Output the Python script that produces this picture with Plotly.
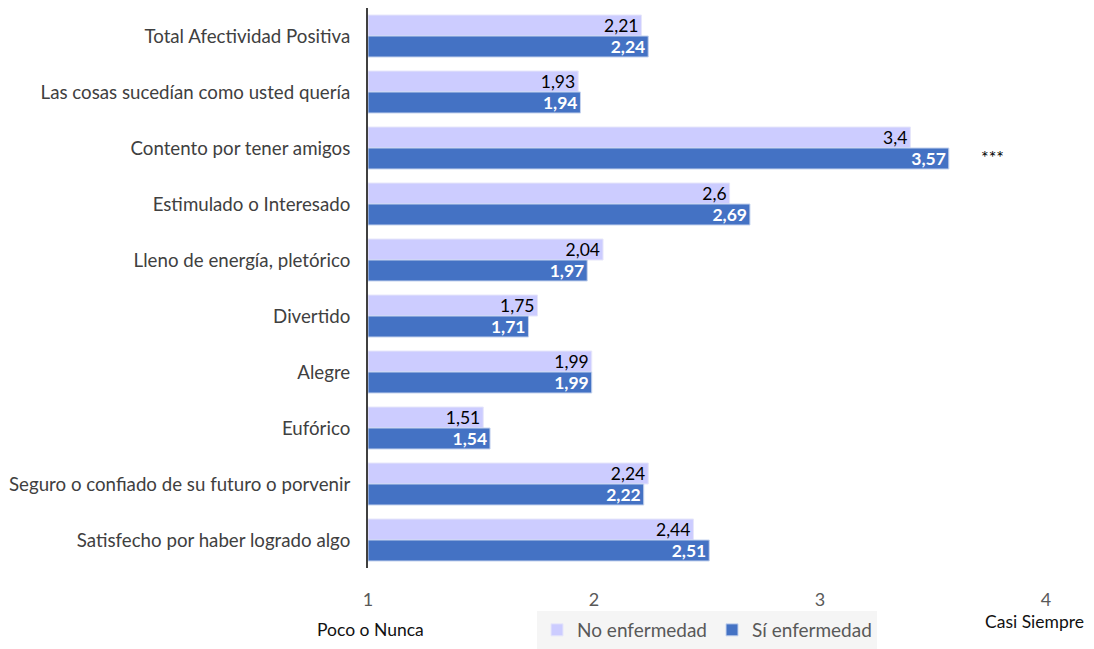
import plotly.graph_objects as go

categorias = [
    "Total Afectividad Positiva",
    "Las cosas sucedían como usted quería",
    "Contento por tener amigos",
    "Estimulado o Interesado",
    "Lleno de energía, pletórico",
    "Divertido",
    "Alegre",
    "Eufórico",
    "Seguro o confiado de su futuro o porvenir",
    "Satisfecho por haber logrado algo",
]
no_enfermedad = [2.21, 1.93, 3.4, 2.6, 2.04, 1.75, 1.99, 1.51, 2.24, 2.44]
si_enfermedad = [2.24, 1.94, 3.57, 2.69, 1.97, 1.71, 1.99, 1.54, 2.22, 2.51]
ticks_x = [1, 2, 3, 4]


def fmt(v):
    return f"{v:g}".replace(".", ",")


fig = go.Figure()
fig.add_trace(go.Bar(
    y=categorias, x=[v - 1 for v in no_enfermedad], base=1,
    orientation="h", name="No enfermedad",
    marker=dict(color="#CCCCFF", line=dict(color="#E6E6FA", width=1)),
    text=[fmt(v) for v in no_enfermedad],
    textposition="inside", insidetextanchor="end", constraintext="none",
    textfont=dict(color="#000000", size=17.5),
    hoverinfo="skip",
))
fig.add_trace(go.Bar(
    y=categorias, x=[v - 1 for v in si_enfermedad], base=1,
    orientation="h", name="Sí enfermedad",
    marker=dict(color="#4472C4", line=dict(color="#C5D3EE", width=1)),
    text=["<b>" + fmt(v) + "</b>" for v in si_enfermedad],
    textposition="inside", insidetextanchor="end", constraintext="none",
    textfont=dict(color="#FFFFFF", size=17.5),
    hoverinfo="skip",
))

fig.add_annotation(x=3.765, y="Contento por tener amigos", text="***",
                   showarrow=False, yshift=-9, font=dict(size=18, color="#000000"))
fig.add_annotation(x=0, xref="paper", y=-0.109, yref="paper", text="Poco o Nunca",
                   showarrow=False, xanchor="center", yanchor="middle", xshift=2,
                   font=dict(size=17.5, color="#111111"))
fig.add_annotation(x=1, xref="paper", y=-0.096, yref="paper", text="Casi Siempre",
                   showarrow=False, xanchor="center", yanchor="middle", xshift=-12,
                   font=dict(size=17.5, color="#111111"))

# la página añade 8 px de margen al body, se compensa aquí
fig.update_layout(
    width=1086, height=641,
    barmode="group", bargap=0.25, bargroupgap=0,
    paper_bgcolor="white", plot_bgcolor="white",
    font=dict(family="Lato, Open Sans, sans-serif", size=18, color="#404040"),
    margin=dict(l=360, r=48, t=0, b=81),
    xaxis=dict(range=[1, 4], tickvals=ticks_x, showgrid=False, zeroline=False,
               showline=False, ticks="outside", ticklen=15,
               tickcolor="rgba(0,0,0,0)", tickfont=dict(color="#595959", size=18)),
    yaxis=dict(autorange="reversed", showgrid=False, showline=True,
               linecolor="#404040", linewidth=2, ticks="", ticklabelstandoff=12,
               tickfont=dict(color="#404040", size=18.7)),
    legend=dict(orientation="h", x=0.5, xanchor="center", xref="paper",
                y=0, yanchor="bottom", yref="container",
                bgcolor="#F5F5F5", font=dict(size=19, color="#595959"),
                traceorder="normal"),
    showlegend=True,
)

fig.write_html("out.html")
